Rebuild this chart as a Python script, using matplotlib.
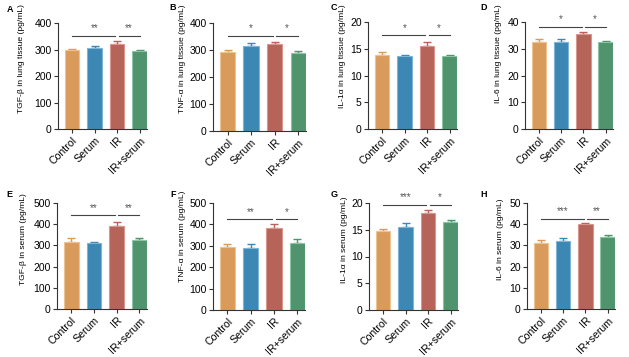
import matplotlib
matplotlib.use("Agg")
import matplotlib.pyplot as plt
import matplotlib.transforms as mtransforms
import numpy as np

plt.rcParams['font.family'] = ['Liberation Sans', 'DejaVu Sans']

groups = ["Control", "Serum", "IR", "IR+serum"]
colors = ["#D99B5C", "#3C87B4", "#B6645A", "#50946E"]
edge_colors = ["#EDC391", "#7FB4D6", "#D9968D", "#8CC4A4"]

# panel data
letters = ["A", "B", "C", "D", "E", "F", "G", "H"]
ylabels = ["TGF-β in lung tissue (pg/mL)", "TNF-α in lung tissue (pg/mL)",
           "IL-1α in lung tissue (pg/mL)", "IL-6 in lung tissue (pg/mL)",
           "TGF-β in serum (pg/mL)", "TNF-α in serum (pg/mL)",
           "IL-1α in serum (pg/mL)", "IL-6 in serum (pg/mL)"]
means_A = [297, 304, 322, 295]
errs_A = [5, 8, 9, 5]
means_B = [292, 315, 322, 290]
errs_B = [7, 10, 6, 7]
means_C = [13.9, 13.6, 15.6, 13.6]
errs_C = [0.5, 0.3, 0.6, 0.3]
means_D = [32.7, 32.7, 35.5, 32.5]
errs_D = [1.0, 1.1, 0.9, 0.5]
means_E = [317, 309, 392, 325]
errs_E = [19, 8, 19, 12]
means_F = [295, 289, 385, 312]
errs_F = [13, 19, 15, 19]
means_G = [14.8, 15.5, 18.2, 16.5]
errs_G = [0.4, 0.8, 0.4, 0.3]
means_H = [30.9, 32.0, 40.0, 33.9]
errs_H = [1.6, 1.7, 0.6, 0.9]
all_means = [means_A, means_B, means_C, means_D, means_E, means_F, means_G, means_H]
all_errs = [errs_A, errs_B, errs_C, errs_D, errs_E, errs_F, errs_G, errs_H]
ymax = [400, 400, 20, 40, 500, 500, 20, 50]
ystep = [100, 100, 5, 10, 100, 100, 5, 10]
sig_y = [352, 353, 17.5, 38.2, 442, 424, 19.7, 42.6]
sig_left = ["**", "*", "*", "*", "**", "**", "***", "***"]
sig_right = ["**", "*", "*", "*", "**", "*", "*", "**"]

# layout in pixels: left, top, right, bottom
W, H = 629, 357
boxes = [(58, 23, 147, 129), (213, 23, 306, 131), (368, 22, 457, 129), (525, 22, 613, 129),
         (57, 203, 147, 309), (213, 203, 305, 310), (369, 203, 458, 310), (527, 203, 615, 309)]
label_xpx = [22, 183, 343, 499, 24, 183, 345, 501]
label_toppx = [4, 4, 4, 4, 193, 191, 196, 198]
letter_pos = [(7, 9), (169, 8), (331, 8), (480, 7), (6, 195), (170, 195), (331, 195), (480, 195)]

fig = plt.figure(figsize=(W / 100, H / 100), dpi=100)
x = np.arange(len(groups))
axis_col = "#333333"

for i in range(8):
    l, t, r, b = boxes[i]
    ax = fig.add_axes([l / W, 1 - b / H, (r - l) / W, (b - t) / H])
    m = all_means[i]
    e = all_errs[i]
    ax.bar(x, m, width=0.65, color=colors, edgecolor=edge_colors, linewidth=0.8, zorder=2)
    for j in range(4):
        ax.errorbar(x[j], m[j], yerr=[[0], [e[j]]], fmt='none', ecolor=colors[j],
                    elinewidth=1.0, capsize=3, capthick=1.0, zorder=1)
    ax.set_xlim(-0.62, 3.33)
    ax.set_ylim(0, ymax[i])
    ax.set_yticks(np.arange(0, ymax[i] + ystep[i] / 2, ystep[i]))
    ax.set_xticks(x)
    ax.set_xticklabels(groups, rotation=45, ha='right', rotation_mode='anchor', fontsize=7.6)
    off = mtransforms.ScaledTranslation(3 / 100, 0, fig.dpi_scale_trans)
    for lab in ax.get_xticklabels():
        lab.set_transform(lab.get_transform() + off)
    ax.tick_params(axis='y', labelsize=7.5, length=3, width=0.8, color=axis_col, pad=1.5)
    ax.tick_params(axis='x', length=3, width=0.8, color=axis_col, pad=1.5)
    for s in ['top', 'right']:
        ax.spines[s].set_visible(False)
    for s in ['left', 'bottom']:
        ax.spines[s].set_color(axis_col)
        ax.spines[s].set_linewidth(0.8)
    ax.set_ylabel(ylabels[i], fontsize=6.1)
    ax.yaxis.label.set_ha('right')
    ax.yaxis.set_label_coords((label_xpx[i] + 3 - l) / (r - l), (b - label_toppx[i]) / (b - t))
    # significance
    ys = sig_y[i]
    ax.plot([0, 1.93], [ys, ys], color="#444444", lw=0.8, clip_on=False)
    ax.plot([2.07, 3], [ys, ys], color="#444444", lw=0.8, clip_on=False)
    dy = ymax[i] * 0.07
    ax.text(1.0, ys + dy, sig_left[i], ha='center', va='center', fontsize=7, color="#555555")
    ax.text(2.53, ys + dy, sig_right[i], ha='center', va='center', fontsize=7, color="#555555")
    lx, ly = letter_pos[i]
    fig.text(lx / W, 1 - ly / H, letters[i], fontsize=6.5, fontweight='bold', ha='left', va='center')

fig.savefig("out.png", dpi=100)
